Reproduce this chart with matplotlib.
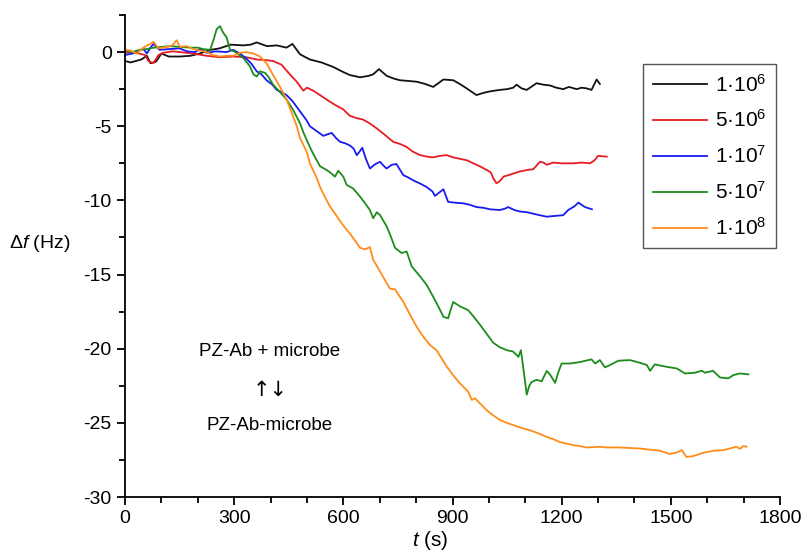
import numpy as np
import matplotlib
matplotlib.use("Agg")
import matplotlib.pyplot as plt
from matplotlib.ticker import MultipleLocator

plt.rcParams['font.family'] = ['Liberation Sans', 'DejaVu Sans']
plt.rcParams['mathtext.fontset'] = 'custom'
plt.rcParams['mathtext.rm'] = 'Liberation Sans'
plt.rcParams['mathtext.it'] = 'Liberation Sans:italic'
plt.rcParams['axes.unicode_minus'] = False

# --- data (t in s, df in Hz) ---
labels = [r'1·10$\mathregular{^{6}}$', r'5·10$\mathregular{^{6}}$', r'1·10$\mathregular{^{7}}$',
          r'5·10$\mathregular{^{7}}$', r'1·10$\mathregular{^{8}}$']
colors = ['#111111', '#e81c22', '#1a1aee', '#1c8c1c', '#ff8c1a']

t_1e6 = [0, 15, 30, 45, 60, 70, 85, 100, 120, 150, 180, 205, 235, 260, 290, 325, 345, 362, 390, 417,
         444, 460, 481, 508, 540, 572, 600, 618, 646, 670, 682, 698, 719, 740, 756, 780, 802, 825, 847,
         875, 902, 920, 939, 966, 985, 1003, 1030, 1050, 1067, 1076, 1090, 1104, 1131, 1150, 1168, 1185,
         1204, 1220, 1241, 1255, 1269, 1282, 1296, 1305]
f_1e6 = [-0.6, -0.7, -0.6, -0.5, -0.25, -0.75, -0.65, -0.1, -0.3, -0.3, -0.25, -0.1, 0.15, 0.25, 0.5,
         0.45, 0.5, 0.65, 0.4, 0.45, 0.3, 0.55, -0.15, -0.5, -0.7, -1.0, -1.35, -1.55, -1.7, -1.6, -1.5,
         -1.15, -1.6, -1.8, -1.9, -1.95, -2.0, -2.15, -2.35, -1.85, -1.9, -2.15, -2.45, -2.9, -2.75,
         -2.65, -2.55, -2.5, -2.4, -2.2, -2.45, -2.55, -2.1, -2.2, -2.25, -2.4, -2.5, -2.35, -2.5, -2.4,
         -2.45, -2.55, -1.85, -2.15]

t_5e6 = [0, 20, 40, 55, 64, 78, 92, 105, 130, 151, 187, 224, 261, 297, 334, 362, 390, 407, 430, 453,
         472, 481, 490, 500, 517, 536, 560, 580, 599, 618, 636, 654, 672, 692, 710, 737, 756, 774, 790,
         811, 830, 847, 865, 884, 902, 921, 940, 957, 975, 994, 1005, 1012, 1021, 1030, 1040, 1060, 1085,
         1105, 1122, 1140, 1150, 1159, 1177, 1200, 1232, 1255, 1278, 1290, 1300, 1324]
f_5e6 = [-0.05, 0.0, -0.1, -0.2, -0.6, -0.75, -0.2, -0.05, 0.05, 0.0, -0.1, -0.25, -0.35, -0.3, -0.35,
         -0.5, -0.55, -0.6, -0.85, -1.5, -2.0, -2.3, -2.6, -2.4, -2.6, -2.9, -3.3, -3.6, -3.85, -4.3,
         -4.45, -4.55, -4.8, -5.15, -5.5, -6.05, -6.2, -6.4, -6.7, -6.95, -7.05, -7.1, -7.0, -6.95, -7.1,
         -7.2, -7.3, -7.5, -7.7, -7.95, -8.1, -8.5, -8.85, -8.7, -8.4, -8.25, -8.05, -7.95, -7.9, -7.4,
         -7.45, -7.6, -7.45, -7.5, -7.5, -7.45, -7.5, -7.3, -7.0, -7.05]

t_1e7 = [0, 20, 40, 50, 60, 70, 78, 95, 120, 150, 170, 193, 206, 225, 250, 279, 297, 316, 334, 348, 362,
         375, 389, 405, 417, 430, 444, 460, 472, 481, 490, 499, 508, 525, 545, 556, 568, 580, 591, 605,
         618, 628, 637, 645, 652, 662, 673, 688, 701, 710, 719, 733, 746, 756, 765, 778, 792, 810, 829,
         845, 852, 862, 875, 888, 905, 930, 948, 966, 985, 1003, 1030, 1045, 1053, 1070, 1085, 1105,
         1122, 1140, 1159, 1180, 1204, 1218, 1235, 1246, 1255, 1264, 1283]
f_1e7 = [-0.2, -0.1, 0.1, 0.25, -0.1, 0.3, 0.55, 0.15, 0.2, 0.25, 0.05, 0.0, 0.2, -0.05, 0.05, 0.0,
         0.15, -0.1, -0.45, -0.8, -1.3, -1.5, -1.9, -2.2, -2.55, -2.7, -2.9, -3.3, -3.7, -4.0, -4.3,
         -4.6, -5.0, -5.3, -5.65, -5.55, -5.45, -5.8, -6.05, -6.15, -6.3, -6.5, -6.95, -6.7, -6.45, -7.2,
         -7.85, -7.55, -7.4, -7.65, -7.85, -7.6, -7.55, -7.95, -8.3, -8.45, -8.65, -8.85, -9.1, -9.4,
         -9.7, -9.5, -9.25, -10.1, -10.15, -10.2, -10.3, -10.45, -10.5, -10.6, -10.65, -10.55, -10.45,
         -10.65, -10.75, -10.8, -10.9, -11.0, -11.1, -11.05, -11.0, -10.65, -10.4, -10.15, -10.3,
         -10.45, -10.6]

t_5e7 = [0, 20, 40, 60, 80, 100, 125, 150, 180, 200, 215, 234, 243, 252, 261, 270, 279, 289, 300, 325,
         343, 353, 362, 371, 385, 395, 407, 426, 444, 462, 481, 490, 499, 508, 517, 536, 554, 563, 577,
         586, 600, 609, 627, 646, 660, 673, 682, 692, 701, 719, 730, 742, 760, 774, 788, 810, 829, 847,
         862, 875, 888, 896, 902, 921, 943, 960, 976, 994, 1012, 1030, 1049, 1067, 1081, 1088, 1095,
         1104, 1111, 1117, 1131, 1145, 1159, 1168, 1182, 1192, 1200, 1223, 1250, 1282, 1292, 1305, 1319,
         1333, 1356, 1388, 1415, 1434, 1443, 1456, 1488, 1516, 1539, 1566, 1585, 1594, 1616, 1635, 1658,
         1672, 1690, 1713]
f_5e7 = [0.1, 0.0, 0.15, 0.2, 0.3, 0.35, 0.4, 0.35, 0.3, 0.3, 0.2, 0.15, 0.8, 1.55, 1.75, 1.3, 1.0,
         0.15, 0.05, -0.4, -0.95, -1.5, -1.65, -1.3, -1.4, -1.7, -2.2, -2.7, -3.2, -3.9, -4.8, -5.4,
         -5.9, -6.4, -6.85, -7.7, -7.95, -8.1, -8.4, -8.0, -8.4, -8.95, -9.2, -9.75, -10.2, -10.65,
         -11.2, -10.8, -11.0, -11.75, -12.4, -13.2, -13.55, -13.45, -14.45, -15.1, -15.7, -16.5, -17.2,
         -17.85, -17.95, -17.3, -16.85, -17.15, -17.4, -17.9, -18.4, -19.0, -19.6, -19.9, -20.1, -20.2,
         -20.55, -20.1, -21.4, -23.1, -22.5, -22.25, -22.1, -22.2, -21.5, -21.75, -22.3, -21.5, -21.0,
         -21.0, -20.9, -20.72, -21.0, -20.77, -21.26, -21.1, -20.81, -20.77, -20.95, -21.1, -21.49,
         -21.06, -21.22, -21.33, -21.67, -21.62, -21.49, -21.62, -21.49, -21.94, -22.0, -21.78, -21.67,
         -21.73]

t_1e8 = [0, 15, 32, 45, 60, 70, 78, 92, 115, 130, 142, 151, 170, 188, 205, 224, 242, 261, 280, 298, 316,
         334, 353, 371, 389, 407, 426, 444, 460, 472, 481, 499, 508, 527, 536, 550, 563, 580, 600, 620,
         646, 660, 673, 682, 701, 715, 728, 742, 765, 783, 801, 820, 838, 856, 870, 884, 902, 921, 943,
         953, 962, 978, 994, 1012, 1030, 1049, 1067, 1090, 1113, 1135, 1159, 1177, 1195, 1214, 1232,
         1250, 1269, 1305, 1324, 1360, 1388, 1415, 1440, 1470, 1497, 1516, 1530, 1543, 1562, 1589, 1617,
         1640, 1653, 1680, 1690, 1699, 1708]
f_1e8 = [0.15, 0.1, -0.1, 0.2, 0.45, 0.55, 0.7, 0.25, 0.35, 0.45, 0.8, 0.35, 0.4, 0.2, 0.1, 0.0, -0.2,
         -0.3, -0.25, -0.25, -0.05, 0.0, -0.1, -0.3, -0.75, -1.55, -2.35, -3.2, -4.2, -5.0, -5.8, -6.7,
         -7.5, -8.5, -9.1, -9.8, -10.4, -11.0, -11.7, -12.3, -13.2, -13.3, -13.15, -14.0, -14.8, -15.4,
         -15.95, -16.0, -16.85, -17.7, -18.5, -19.2, -19.75, -20.1, -20.65, -21.2, -21.8, -22.35, -22.9,
         -23.45, -23.35, -23.75, -24.15, -24.5, -24.8, -25.0, -25.15, -25.35, -25.5, -25.7, -25.95,
         -26.1, -26.3, -26.4, -26.5, -26.57, -26.66, -26.62, -26.66, -26.66, -26.7, -26.73, -26.8,
         -26.88, -27.1, -27.0, -26.84, -27.3, -27.24, -27.02, -26.88, -26.85, -26.79, -26.61, -26.75,
         -26.57, -26.61]

series = [(t_1e6, f_1e6), (t_5e6, f_5e6), (t_1e7, f_1e7), (t_5e7, f_5e7), (t_1e8, f_1e8)]

fig = plt.figure(figsize=(8.01, 5.53), dpi=100)
ax = fig.add_axes([125/801, 1 - 497/553, 655/801, 482/553])

for (t, f), c, lab in zip(series, colors, labels):
    ax.plot(t, f, color=c, lw=1.3, label=lab)

ax.set_xlim(0, 1800)
ax.set_ylim(-30, 2.5)
ax.xaxis.set_major_locator(MultipleLocator(300))
ax.xaxis.set_minor_locator(MultipleLocator(100))
ax.yaxis.set_major_locator(MultipleLocator(5))
ax.yaxis.set_minor_locator(MultipleLocator(2.5))
ax.tick_params(which='both', direction='out', width=1.3, labelsize=14)
ax.tick_params(which='major', length=6)
ax.tick_params(which='minor', length=4)
for s in ['top', 'right']:
    ax.spines[s].set_visible(False)
for s in ['left', 'bottom']:
    ax.spines[s].set_linewidth(1.3)

fig.text(40/801, 1 - 243/553, r'$\Delta\mathit{f}$ (Hz)', fontsize=14, ha='center', va='center')
fig.text(430/801, 1 - 541/553, r'$\mathit{t}$ (s)', fontsize=15, ha='center', va='center')

# reaction scheme, placed in axes fraction
ax.text(0.221, 0.301, 'PZ-Ab + microbe', fontsize=13.5, ha='center', va='center', transform=ax.transAxes)
ax.text(0.221, 0.222, '↑↓', fontsize=15, ha='center', va='center', transform=ax.transAxes,
        family='DejaVu Sans')
ax.text(0.221, 0.149, 'PZ-Ab-microbe', fontsize=13.5, ha='center', va='center', transform=ax.transAxes)

leg = ax.legend(loc='upper right', bbox_to_anchor=(0.994, 0.898), borderaxespad=0,
                fontsize=15, handlelength=2.6, labelspacing=0.67, fancybox=False,
                framealpha=1, edgecolor='#555555', borderpad=0.45, handletextpad=0.4)
leg.get_frame().set_linewidth(1.0)

fig.savefig('out.png', dpi=100)
